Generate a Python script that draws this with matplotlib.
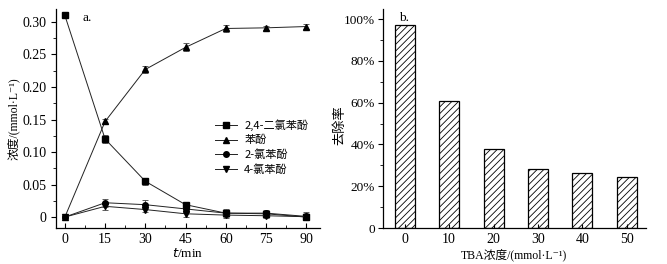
import matplotlib
matplotlib.use("Agg")
import matplotlib.pyplot as plt
from matplotlib.lines import Line2D
from matplotlib.ticker import MultipleLocator, FixedLocator, FuncFormatter

plt.rcParams['font.family'] = ['Liberation Serif', 'Noto Sans CJK SC', 'DejaVu Serif']
plt.rcParams['font.size'] = 8.5
plt.rcParams['xtick.labelsize'] = 10
plt.rcParams['ytick.labelsize'] = 10
plt.rcParams['hatch.linewidth'] = 0.6

# panel a: concentration over time
t = [0, 15, 30, 45, 60, 75, 90]
dcp24 = [0.310, 0.120, 0.055, 0.019, 0.006, 0.005, 0.000]
dcp24_err = [0.002, 0.006, 0.005, 0.003, 0.003, 0.003, 0.004]
phenol = [0.0, 0.147, 0.227, 0.261, 0.290, 0.291, 0.293]
phenol_err = [0.002, 0.004, 0.005, 0.006, 0.005, 0.003, 0.004]
cp2 = [0.0, 0.022, 0.019, 0.0125, 0.006, 0.006, 0.001]
cp2_err = [0.002, 0.006, 0.007, 0.004, 0.006, 0.005, 0.006]
cp4 = [0.0, 0.0165, 0.0115, 0.005, 0.003, 0.002, 0.0005]
cp4_err = [0.002, 0.006, 0.004, 0.005, 0.004, 0.003, 0.004]
series_names = ['2,4-二氯苯酚', '苯酚', '2-氯苯酚', '4-氯苯酚']

# panel b: removal vs TBA concentration
tba = [0, 10, 20, 30, 40, 50]
removal = [0.971, 0.609, 0.378, 0.281, 0.262, 0.246]

fig = plt.figure(figsize=(6.67, 2.64), dpi=100)
ax1 = fig.add_axes([0.084, 0.136, 0.396, 0.830])
ax2 = fig.add_axes([0.574, 0.136, 0.394, 0.830])

markers = ['s', '^', 'o', 'v']
data = [(dcp24, dcp24_err), (phenol, phenol_err), (cp2, cp2_err), (cp4, cp4_err)]
handles = []
for (y, e), m, name in zip(data, markers, series_names):
    ax1.errorbar(t, y, yerr=e, marker=m, markersize=4, color='#222222',
                 mfc='black', mec='black', lw=0.7, elinewidth=0.6,
                 capsize=2, capthick=0.6, ecolor='#444444')
    handles.append(Line2D([], [], marker=m, markersize=4, color='#222222',
                          mfc='black', mec='black', lw=0.7, label=name))

ax1.set_xlim(-3.3, 95.2)
ax1.set_ylim(-0.017, 0.320)
ax1.xaxis.set_major_locator(FixedLocator(t))
ax1.xaxis.set_minor_locator(MultipleLocator(7.5))
ax1.yaxis.set_major_locator(MultipleLocator(0.05))
ax1.yaxis.set_minor_locator(MultipleLocator(0.025))
ax1.yaxis.set_major_formatter(FuncFormatter(lambda v, p: '0' if abs(v) < 1e-9 else f'{v:.2f}'))
ax1.tick_params(axis='x', which='both', direction='in')
ax1.tick_params(axis='y', which='both', direction='out')
ax1.tick_params(which='major', length=3.5, width=0.8)
ax1.tick_params(which='minor', length=2, width=0.6)
ax1.set_xlabel('$t$/min', labelpad=1, fontsize=9.5)
ax1.set_ylabel('浓度/(mmol·L⁻¹)', labelpad=2)
ax1.text(0.10, 0.985, 'a.', transform=ax1.transAxes, va='top', fontsize=9.5)
ax1.legend(handles=handles, loc='center left', bbox_to_anchor=(0.565, 0.37),
           frameon=False, handlelength=2.0, handletextpad=0.6,
           labelspacing=0.35, prop={'family': ['Noto Sans CJK SC'], 'size': 8})

ax2.bar(tba, removal, width=4.5, color='white', edgecolor='black',
        linewidth=0.9, hatch='/////')
ax2.set_xlim(-4.95, 54.3)
ax2.set_ylim(0, 1.048)
ax2.xaxis.set_major_locator(FixedLocator(tba))
ax2.yaxis.set_major_locator(MultipleLocator(0.2))
ax2.yaxis.set_minor_locator(MultipleLocator(0.1))
ax2.yaxis.set_major_formatter(FuncFormatter(lambda v, p: '0' if abs(v) < 1e-9 else f'{v*100:.0f}%'))
ax2.tick_params(axis='x', which='both', direction='in', length=3, width=0.8)
ax2.tick_params(axis='y', which='both', direction='out', labelsize=9.5, pad=2)
ax2.tick_params(axis='y', which='major', length=3.5, width=0.8)
ax2.tick_params(axis='y', which='minor', length=2, width=0.6)
ax2.set_xlabel('TBA浓度/(mmol·L⁻¹)', labelpad=2)
ax2.set_ylabel('去除率', fontsize=9.5)
ax2.yaxis.set_label_coords(-0.14, 0.47)
ax2.text(0.06, 0.985, 'b.', transform=ax2.transAxes, va='top', fontsize=9.5)

for ax in (ax1, ax2):
    ax.spines['top'].set_visible(False)
    ax.spines['right'].set_visible(False)
    ax.spines['left'].set_linewidth(0.9)
    ax.spines['bottom'].set_linewidth(0.9)

fig.savefig('out.png', dpi=100)
